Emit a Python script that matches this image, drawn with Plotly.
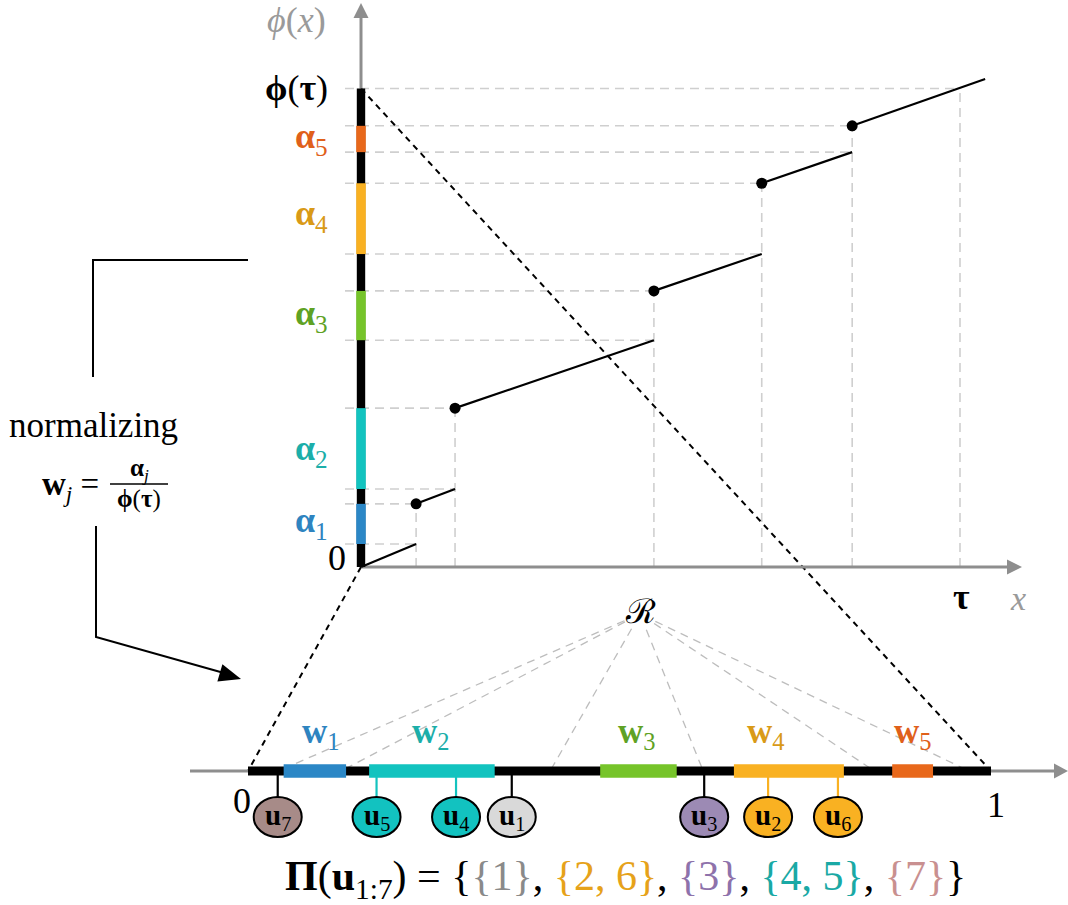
import math
import plotly.graph_objects as go

# ---------------- data ----------------
tau = 10.0                     # position of tau on the x axis
phi_tau = 10.0                 # phi(tau)
jump_x = [0.92, 1.57, 4.89, 6.69, 8.20]          # jump locations of phi
alpha_lo = [0.48, 1.63, 4.74, 6.54, 8.67]        # phi just before each jump
alpha_hi = [1.32, 3.32, 5.77, 8.02, 9.22]        # phi just after each jump
x_end = 10.42
phi_end = 10.20
alpha_idx = ["1", "2", "3", "4", "5"]
seg_colors = ["#2b87c6", "#13c3bf", "#76c42a", "#f9b122", "#e8681b"]
lab_colors = ["#2e84c0", "#1caea9", "#5fa224", "#d99a17", "#e0601a"]

u_idx = ["1", "2", "3", "4", "5", "6", "7"]
u_vals = [0.355, 0.700, 0.614, 0.280, 0.173, 0.794, 0.040]
partition = [[1], [2, 6], [3], [4, 5], [7]]
part_fill = ["#d9d9d9", "#f9b122", "#9c8ab4", "#12c2c0", "#a78b88"]
part_text = ["#8a8a8a", "#e6a21a", "#8e72ab", "#1aa9a5", "#c99090"]

r_targets = [0.050, 0.133, 0.409, 0.611, 0.837, 0.962]

# ---------------- layout geometry ----------------
W, H = 1068, 905
X0, SX = 361, 59.9      # upper x: pixel of 0 and px per unit
Y0, SY = 567, 47.85     # upper y: pixel of 0 and px per unit
L0, LW = 248, 743       # lower line: pixel of 0 and px per unit

def px_x(p):
    return (p - X0) / SX

def px_y(p):
    return (Y0 - p) / SY

def low_to_x(u):
    return px_x(L0 + LW * u)

LINE_Y = px_y(771)
CIRC_Y = px_y(817)
RX, RY = 24 / LW, 20 / SY

FONT = "Liberation Serif, DejaVu Serif, serif"
GRID = "#cfcfcf"
AXC = "#8e8e8e"

fig = go.Figure()
shapes = []
ann = []

def line(xs, ys, color, width, dash=None, xaxis="x"):
    fig.add_trace(go.Scatter(x=xs, y=ys, mode="lines", xaxis=xaxis, yaxis="y",
                             line=dict(color=color, width=width, dash=dash),
                             hoverinfo="skip", showlegend=False))

def tri(tip, base_dir, length, half):
    dx, dy = base_dir
    bx, by = tip[0] - dx * length, tip[1] - dy * length
    nx, ny = -dy, dx
    p1 = (bx + nx * half, by + ny * half)
    p2 = (bx - nx * half, by - ny * half)
    return dict(type="path", xref="x", yref="y", layer="above",
                path=f"M {px_x(tip[0])},{px_y(tip[1])} L {px_x(p1[0])},{px_y(p1[1])} "
                     f"L {px_x(p2[0])},{px_y(p2[1])} Z",
                line=dict(width=0))

# ---- dashed guides in the upper plot ----
gx, gy = [], []
x_left = px_x(345)
for k in range(5):
    for lev in (alpha_lo[k], alpha_hi[k]):
        gx += [x_left, jump_x[k], None]
        gy += [lev, lev, None]
    gx += [jump_x[k], jump_x[k], None]
    gy += [0, alpha_hi[k], None]
gx += [x_left, tau, None, tau, tau, None]
gy += [phi_tau, phi_tau, None, 0, phi_tau, None]
line(gx, gy, GRID, 1.6, "9px,6px")

# ---- R dashed lines (lower) ----
Rpx = (640, 614)
rx_, ry_ = [], []
for u in r_targets:
    ex, ey = L0 + LW * u, 768
    d = math.hypot(ex - Rpx[0], ey - Rpx[1])
    t = 17 / d
    sx, sy = Rpx[0] + (ex - Rpx[0]) * t, Rpx[1] + (ey - Rpx[1]) * t
    rx_ += [(sx - L0) / LW, u, None]
    ry_ += [px_y(sy), px_y(ey), None]
line(rx_, ry_, "#bdbdbd", 1.3, "8px,6px", xaxis="x2")

# ---- black diagonal dashed connectors ----
line([0, low_to_x(0)], [0, LINE_Y], "black", 2, "6px,5px")
line([0, low_to_x(1)], [phi_tau, LINE_Y], "black", 2, "6px,5px")

# ---- gray axes with arrowheads ----
line([0, px_x(1008)], [0, 0], AXC, 3)
shapes.append({**tri((1022, 567), (1, 0), 15, 7.5), "fillcolor": AXC})
line([0, 0], [phi_tau, px_y(17)], AXC, 3)
shapes.append({**tri((361, 3), (0, -1), 15, 7.5), "fillcolor": AXC})
line([px_x(190), px_x(1055)], [LINE_Y, LINE_Y], AXC, 3)
shapes.append({**tri((1068, 771), (1, 0), 14, 7.5), "fillcolor": AXC})

# ---- phi(x) ----
fx, fy = [0, jump_x[0], None], [0, alpha_lo[0], None]
for k in range(5):
    x1 = jump_x[k + 1] if k < 4 else x_end
    y1 = alpha_lo[k + 1] if k < 4 else phi_end
    fx += [jump_x[k], x1, None]
    fy += [alpha_hi[k], y1, None]
line(fx, fy, "black", 2.2)
fig.add_trace(go.Scatter(x=jump_x, y=alpha_hi, mode="markers",
                         marker=dict(color="black", size=11),
                         hoverinfo="skip", showlegend=False))

# ---- thick y-axis bar and alpha segments ----
hw = 4.2 / SX
shapes.append(dict(type="rect", xref="x", yref="y", layer="above",
                   x0=-hw, x1=hw, y0=0, y1=phi_tau, fillcolor="black", line=dict(width=0)))
hw2 = 4.8 / SX
for k in range(5):
    shapes.append(dict(type="rect", xref="x", yref="y", layer="above",
                       x0=-hw2, x1=hw2, y0=alpha_lo[k], y1=alpha_hi[k],
                       fillcolor=seg_colors[k], line=dict(width=0)))

# ---- lower line with w segments ----
hb = 4.6 / SY
shapes.append(dict(type="rect", xref="x2", yref="y", layer="above",
                   x0=0, x1=1, y0=LINE_Y - hb, y1=LINE_Y + hb,
                   fillcolor="black", line=dict(width=0)))
hc = 6.8 / SY
for k in range(5):
    shapes.append(dict(type="rect", xref="x2", yref="y", layer="above",
                       x0=alpha_lo[k] / phi_tau, x1=alpha_hi[k] / phi_tau,
                       y0=LINE_Y - hc, y1=LINE_Y + hc,
                       fillcolor=seg_colors[k], line=dict(width=0)))

# ---- u circles ----
for i, u in enumerate(u_vals):
    sc = "black"
    for k in range(5):
        if alpha_lo[k] / phi_tau <= u <= alpha_hi[k] / phi_tau:
            sc = seg_colors[k]
    line([u, u], [LINE_Y, CIRC_Y + RY], sc, 2.2, xaxis="x2")
    pi = [j for j, p in enumerate(partition) if i + 1 in p][0]
    shapes.append(dict(type="circle", xref="x2", yref="y", layer="above",
                       x0=u - RX, x1=u + RX, y0=CIRC_Y - RY, y1=CIRC_Y + RY,
                       fillcolor=part_fill[pi], line=dict(color="black", width=2)))
    ann.append(dict(x=u, y=CIRC_Y, xref="x2", yref="y", showarrow=False,
                    text=f"<b>u</b><sub>{u_idx[i]}</sub>",
                    font=dict(family=FONT, size=29, color="black")))

# ---- left bracket & arrow ----
line([px_x(93), px_x(93), px_x(248)], [px_y(377), px_y(260), px_y(260)], "black", 2)
line([px_x(96), px_x(96), px_x(224)], [px_y(526), px_y(637), px_y(673)], "black", 2)
d = math.hypot(240 - 96, 679 - 637)
shapes.append({**tri((241, 679), ((240 - 96) / d, (679 - 637) / d), 22, 9), "fillcolor": "black"})
line([px_x(110), px_x(168)], [px_y(484), px_y(484)], "black", 1.3)

# ---- text ----
def txt(x, y, s, size, color="black"):
    ann.append(dict(x=px_x(x), y=px_y(y), xref="x", yref="y", showarrow=False,
                    text=s, font=dict(family=FONT, size=size, color=color)))

txt(296, 20, "<i>ϕ</i>(<i>x</i>)", 36, "#9a9a9a")
txt(296, 88, "<b>ϕ</b>(<b>τ</b>)", 36)
for k in range(5):
    ylab = [522, 450, 315, 215, 138][k]
    txt(311, ylab, f"<b>α</b><sub>{alpha_idx[k]}</sub>", 36, lab_colors[k])
txt(337, 558, "0", 36)
txt(961, 597, "<b>τ</b>", 36)
txt(1018, 598, "<i>x</i>", 34, "#9a9a9a")
txt(93, 425, "normalizing", 35)
txt(70, 486, "<b>w</b><sub><i>j</i></sub> =", 33)
txt(139, 469, "<b>α</b><sub><i>j</i></sub>", 25)
txt(139, 499, "<b>ϕ</b>(<b>τ</b>)", 25)
txt(640, 611, "ℛ", 34)
txt(242, 801, "0", 36)
txt(996, 805, "1", 36)
wx = [321, 431, 637, 766, 913]
for k in range(5):
    txt(wx[k], 733, f"<b>w</b><sub>{alpha_idx[k]}</sub>", 35, lab_colors[k])

parts = []
for j, p in enumerate(partition):
    parts.append(f"<span style='color:{part_text[j]}'>{{{', '.join(str(v) for v in p)}}}</span>")
formula = "<b>Π</b>(<b>u</b><sub>1:7</sub>) = {" + ", ".join(parts) + "}"
txt(625, 879, formula, 42)

fig.update_layout(
    width=W, height=H, margin=dict(l=0, r=0, t=0, b=0),
    paper_bgcolor="white", plot_bgcolor="white", showlegend=False,
    xaxis=dict(range=[-X0 / SX, (W - X0) / SX], visible=False, fixedrange=True),
    xaxis2=dict(range=[-L0 / LW, (W - L0) / LW], visible=False, overlaying="x",
                anchor="y", fixedrange=True),
    yaxis=dict(range=[(Y0 - H) / SY, Y0 / SY], visible=False, fixedrange=True),
    shapes=shapes, annotations=ann,
)
fig.write_html("out.html", config={"displayModeBar": False},
               post_script="document.body.style.margin='0';document.body.style.overflow='hidden';")
